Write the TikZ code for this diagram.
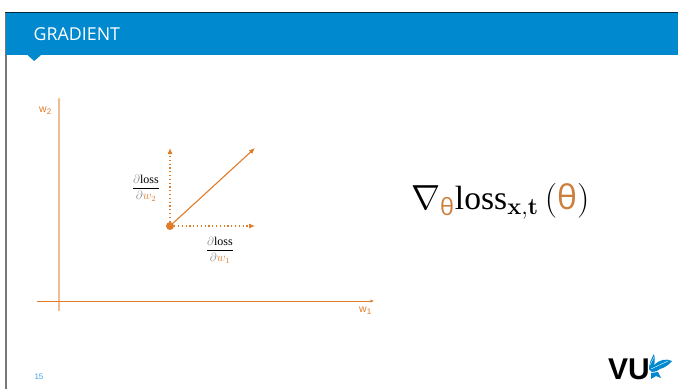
\documentclass[tikz,border=0pt]{standalone}
\usepackage{amsmath,fontspec}
\usepackage{graphicx}
\setmainfont{Latin Modern Roman}
\newfontfamily\titlefont{Open Sans}
\newfontfamily\labelfont{Liberation Sans}
\newfontfamily\lossfont{Liberation Serif}
\usetikzlibrary{arrows.meta}
\definecolor{vublue}{HTML}{0089CF}
\definecolor{vuorange}{HTML}{E07B28}
\definecolor{thetacol}{HTML}{CC7F3C}
\definecolor{pagenum}{HTML}{3FA6DE}
\definecolor{framegray}{HTML}{777777}
\newcommand{\partialgray}{\textcolor{black!45}{$\partial$}}
\newcommand{\thetasans}{{\titlefont\textcolor{thetacol}{θ}}}
\newcommand{\losstext}{{\lossfont loss}}
\tikzset{
  axis/.style={draw=vuorange,line width=1pt,-{Latex[length=3.5pt,width=3.5pt]}},
  faintaxis/.style={axis,draw=vuorange!50,line width=1.1pt},
  partline/.style={draw=vuorange,line width=1.1pt,dash pattern=on 1.2pt off 2.6pt,-{Latex[length=6pt,width=5pt]}},
  gradline/.style={draw=vuorange,line width=1.1pt,-{Latex[length=6pt,width=5pt]}},
  axislabel/.style={inner sep=0pt,text=vuorange,font=\labelfont\fontsize{10.5}{11}\selectfont},
  fraclabel/.style={inner sep=0pt,font=\fontsize{12}{13}\selectfont}
}
\begin{document}
\begin{tikzpicture}[x=1pt,y=-1pt]
        \useasboundingbox (0,0) rectangle (678,389);
        % slide frame
        \fill[white] (0,0) rectangle (678,389);
        \fill[framegray] (5,12) rectangle (7,389);
        \fill[vublue] (6,13) rectangle (678,55);
        \fill[black!70!vublue] (5,11.5) rectangle (678,13);
        \fill[vublue] (27.5,55) -- (41,55) -- (34.2,61) -- cycle;
        \node[inner sep=0pt,anchor=west,text=white,font=\titlefont\fontsize{17.8}{18}\selectfont] (title) at (33.5,34) {GRADIENT};
        % axes
        \coordinate (W2from) at (59,311);
        \coordinate (W2to) at (59,97);
        \coordinate (W1from) at (37,301);
        \coordinate (W1to) at (374,301);
        \draw[faintaxis] (W2from) -- (W2to);
        \draw[axis] (W1from) -- (W1to);
        \node[axislabel] (W2) at (45.5,110.5) {w\textsubscript{\footnotesize 2}};
        \node[axislabel] (W1) at (365.5,311) {w\textsubscript{\footnotesize 1}};
        % gradient
        \node[circle,fill=vuorange,inner sep=0pt,minimum size=8pt] (P) at (170,226) {};
        \coordinate (Pup) at (170,148);
        \coordinate (Pright) at (255,226);
        \coordinate (Pdiag) at (255,148);
        \draw[partline] (P) -- (Pup);
        \draw[partline] (P) -- (Pright);
        \draw[gradline] (P) -- (Pdiag);
        \node[fraclabel] (D2) at (146,188) {$\dfrac{\text{\partialgray\losstext}}{\text{\partialgray\textcolor{vuorange}{$w_2$}}}$};
        \node[fraclabel] (D1) at (220,250) {$\dfrac{\text{\partialgray\losstext}}{\text{\partialgray\textcolor{vuorange}{$w_1$}}}$};
        % formula
        \node[inner sep=0pt,anchor=west,font=\fontsize{20}{22}\selectfont] (F) at (411,201)
          {\scalebox{1.68}{$\nabla_{\text{\thetasans}}\text{\losstext}_{\mathbf{x},\mathbf{t}}\,(\text{\thetasans})$}};
        % footer
        \node[inner sep=0pt,text=pagenum,font=\labelfont\fontsize{8}{8}\selectfont] (PAGE) at (39,377) {15};
        \node[inner sep=0pt,anchor=west,font=\labelfont\bfseries\fontsize{30}{30}\selectfont] (VU) at (608,369) {VU};
        % wing of the logo
        \fill[vublue] (649,369) .. controls (649,364) and (651,359) .. (654,354)
          .. controls (655,358) and (655,362) .. (654,365)
          .. controls (659,360) and (666,358) .. (672,361)
          .. controls (669,365) and (664,368) .. (660,369)
          .. controls (658,371) and (655,372) .. (652,372) -- cycle;
        \fill[vublue] (651,373) -- (658,372) -- (661,378) -- (656,376) -- (651,379) -- cycle;
        \draw[white,line width=0.4pt] (651,369) -- (668,361) (650,365) -- (654,357);
\end{tikzpicture}
\end{document}
